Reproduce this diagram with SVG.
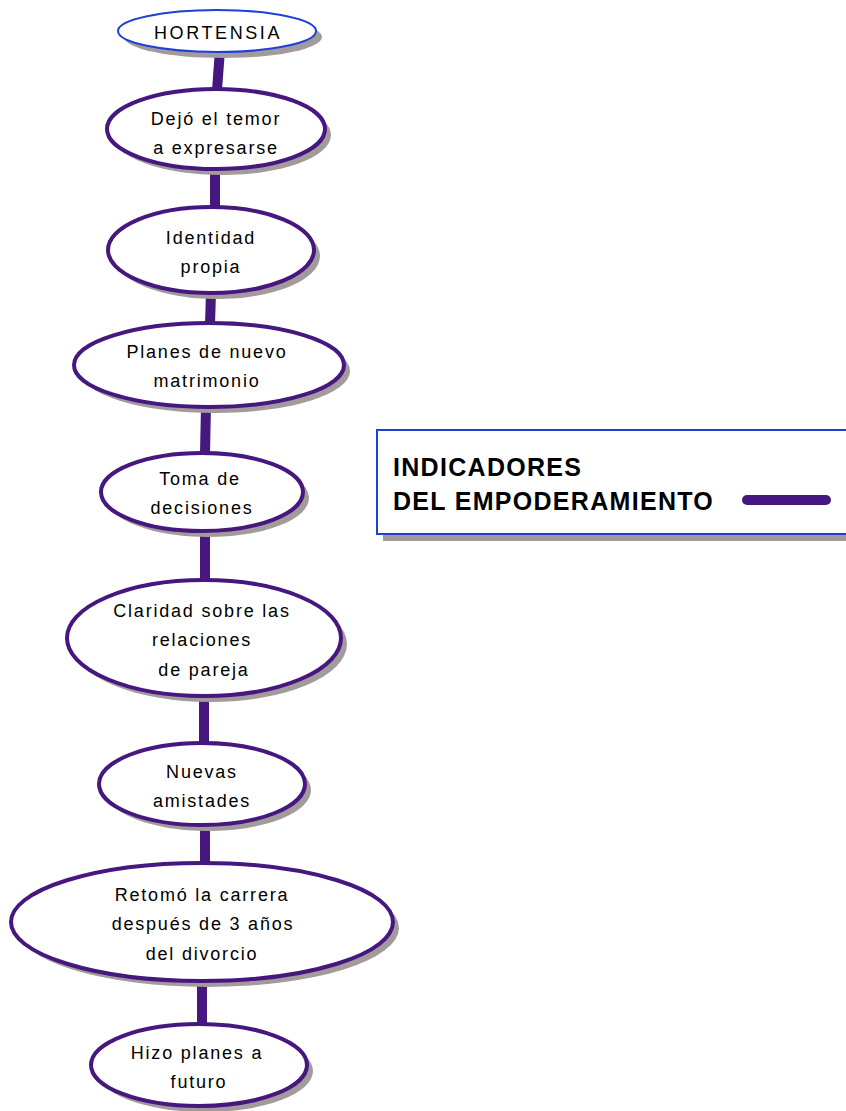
<svg xmlns="http://www.w3.org/2000/svg" width="846" height="1111" viewBox="0 0 846 1111">
  <style>
    .shadow { fill: #a39b9b; }
    .node { fill: #ffffff; stroke: #46187f; stroke-width: 4; }
    .root { fill: #ffffff; stroke: #1e3fd8; stroke-width: 2; }
    .label { font-family: "Liberation Sans", Arial, sans-serif; font-size: 18px; fill: #000000; text-anchor: middle; letter-spacing: 1.8px; }
    .link { stroke: #46187f; stroke-width: 10; fill: none; }
    .title { font-family: "Liberation Sans", Arial, sans-serif; font-size: 25px; font-weight: bold; fill: #000000; letter-spacing: 1.3px; }
  </style>

  <!-- connectors -->
  <g id="connectors">
    <line class="link" x1="220" y1="50" x2="217" y2="90"/>
    <line class="link" x1="215" y1="168" x2="215" y2="207"/>
    <line class="link" x1="211" y1="293" x2="210" y2="324"/>
    <line class="link" x1="206" y1="406" x2="205" y2="453"/>
    <line class="link" x1="205" y1="530" x2="205" y2="580"/>
    <line class="link" x1="204" y1="695" x2="204" y2="743"/>
    <line class="link" x1="205" y1="824" x2="205" y2="864"/>
    <line class="link" x1="202" y1="981" x2="202" y2="1024"/>
  </g>

  <g id="n-hortensia">
    <ellipse class="shadow" cx="223" cy="37" rx="99" ry="21"/>
    <ellipse class="root" cx="217" cy="31" rx="99" ry="21"/>
    <text class="label" x="218" y="39" style="letter-spacing:2.6px">HORTENSIA</text>
  </g>

  <g id="n-temor">
    <ellipse class="shadow" cx="222" cy="135" rx="109" ry="40"/>
    <ellipse class="node" cx="216" cy="129" rx="109" ry="40"/>
    <text class="label" x="216" y="125">Dejó el temor</text>
    <text class="label" x="216" y="154">a expresarse</text>
  </g>

  <g id="n-identidad">
    <ellipse class="shadow" cx="217" cy="256" rx="103" ry="43"/>
    <ellipse class="node" cx="211" cy="250" rx="103" ry="43"/>
    <text class="label" x="211" y="244">Identidad</text>
    <text class="label" x="211" y="273">propia</text>
  </g>

  <g id="n-matrimonio">
    <ellipse class="shadow" cx="215" cy="371" rx="135" ry="42"/>
    <ellipse class="node" cx="209" cy="365" rx="135" ry="42"/>
    <text class="label" x="207" y="358">Planes de nuevo</text>
    <text class="label" x="207" y="387">matrimonio</text>
  </g>

  <g id="n-decisiones">
    <ellipse class="shadow" cx="208" cy="498" rx="101" ry="39"/>
    <ellipse class="node" cx="202" cy="492" rx="101" ry="39"/>
    <text class="label" x="200" y="485">Toma de</text>
    <text class="label" x="202" y="514">decisiones</text>
  </g>

  <g id="n-claridad">
    <ellipse class="shadow" cx="210" cy="644" rx="137" ry="58"/>
    <ellipse class="node" cx="204" cy="638" rx="137" ry="58"/>
    <text class="label" x="202" y="617">Claridad sobre las</text>
    <text class="label" x="202" y="646">relaciones</text>
    <text class="label" x="204" y="676">de pareja</text>
  </g>

  <g id="n-amistades">
    <ellipse class="shadow" cx="208" cy="790" rx="103" ry="41"/>
    <ellipse class="node" cx="202" cy="784" rx="103" ry="41"/>
    <text class="label" x="202" y="778">Nuevas</text>
    <text class="label" x="202" y="807">amistades</text>
  </g>

  <g id="n-carrera">
    <ellipse class="shadow" cx="208" cy="928" rx="191" ry="59"/>
    <ellipse class="node" cx="202" cy="922" rx="191" ry="59"/>
    <text class="label" x="202" y="901">Retomó la carrera</text>
    <text class="label" x="203" y="930">después de 3 años</text>
    <text class="label" x="202" y="960">del divorcio</text>
  </g>

  <g id="n-futuro">
    <ellipse class="shadow" cx="205" cy="1071" rx="108" ry="41"/>
    <ellipse class="node" cx="199" cy="1065" rx="108" ry="41"/>
    <text class="label" x="197" y="1059">Hizo planes a</text>
    <text class="label" x="199" y="1088">futuro</text>
  </g>

  <!-- legend -->
  <g id="legend">
    <rect class="shadow" x="383" y="436" width="470" height="105"/>
    <rect x="377" y="430" width="475" height="104" fill="#ffffff" stroke="#1e3fd8" stroke-width="2"/>
    <text class="title" x="393" y="476">INDICADORES</text>
    <text class="title" x="393" y="510">DEL EMPODERAMIENTO</text>
    <line x1="747" y1="500" x2="826" y2="500" stroke="#46187f" stroke-width="10" stroke-linecap="round"/>
  </g>
</svg>
